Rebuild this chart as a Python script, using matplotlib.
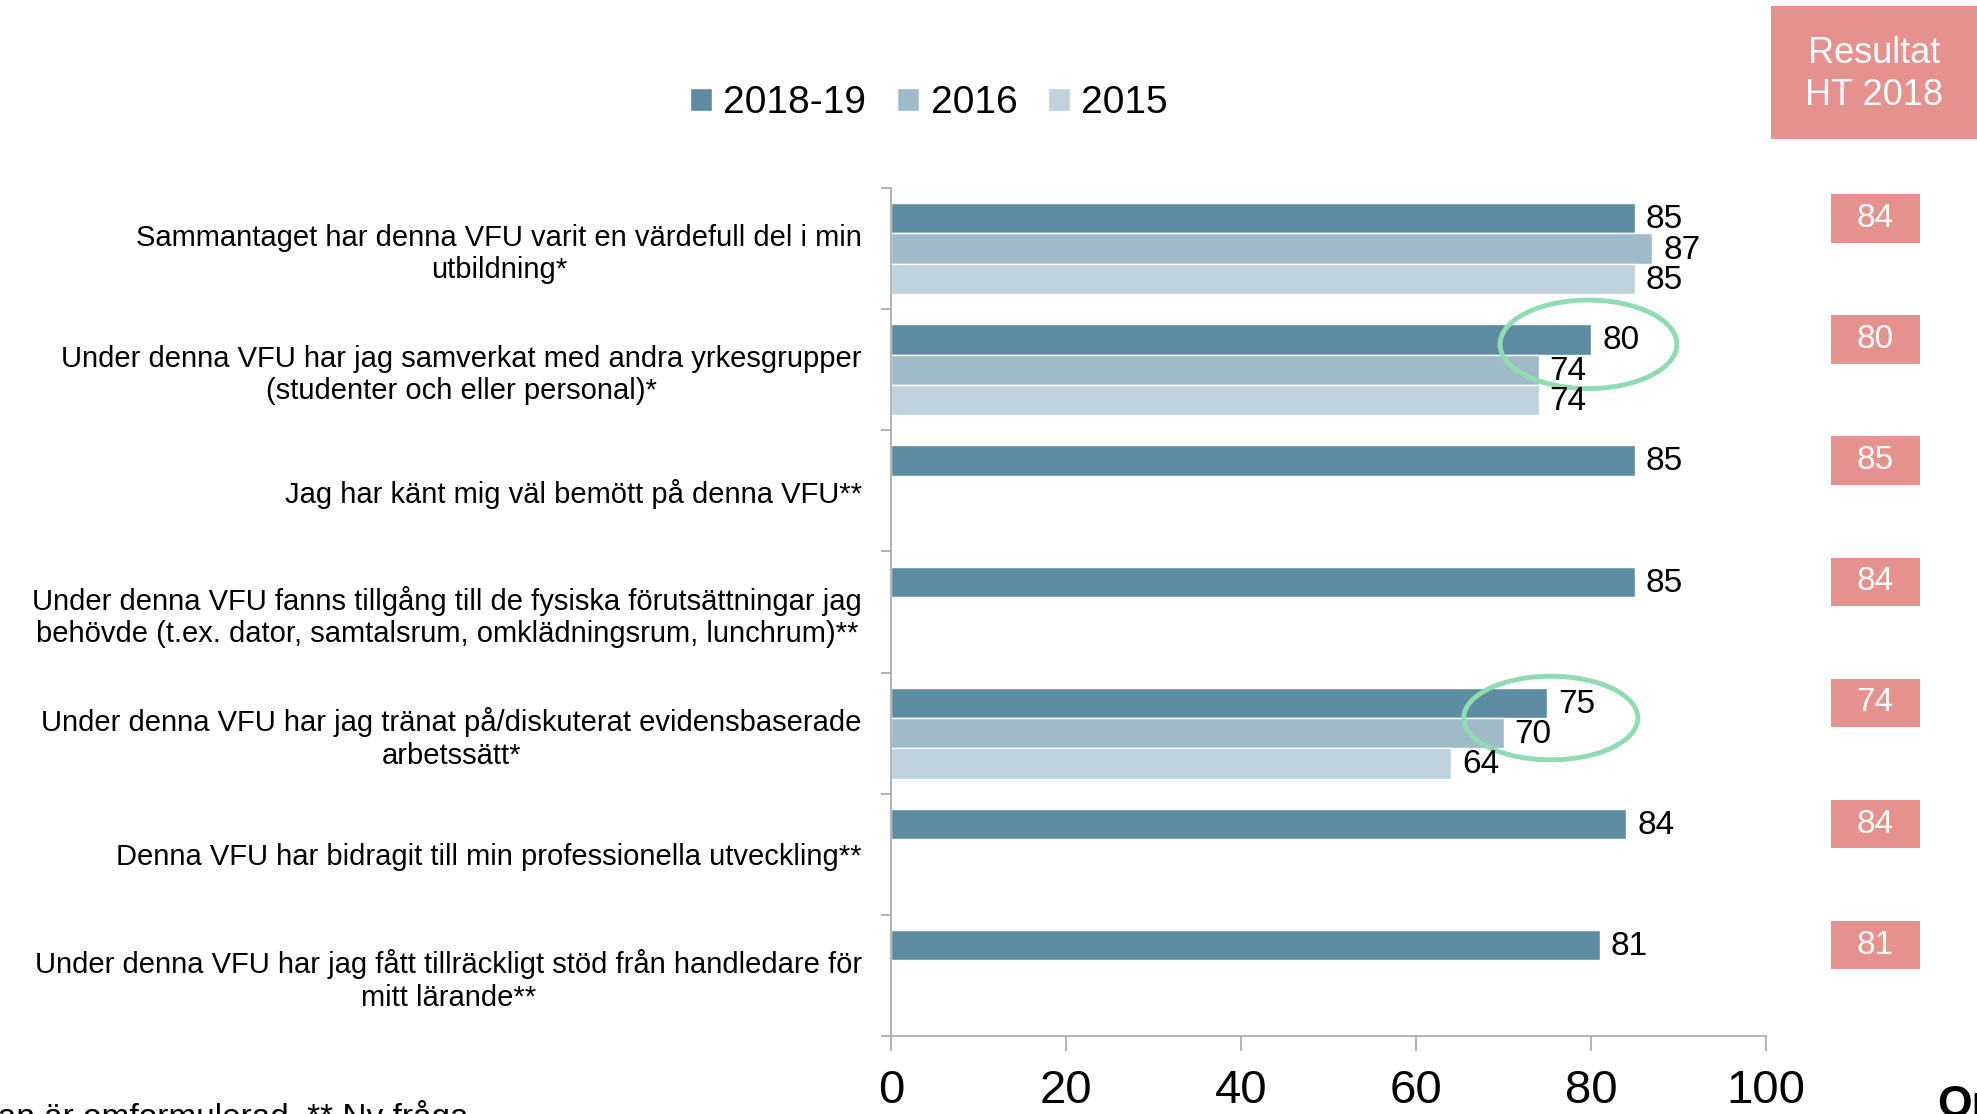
"""
VFU-enkät: stapeldiagram med jämförelse mellan år
"""

import matplotlib
matplotlib.use("Agg")
import matplotlib.pyplot as plt
from matplotlib.patches import Ellipse, Rectangle
from matplotlib.transforms import blended_transform_factory
import numpy as np

plt.rcParams['font.family'] = ['Liberation Sans', 'DejaVu Sans']

# Daten
fragor = [
    "Sammantaget har denna VFU varit en värdefull del i min\nutbildning*",
    "Under denna VFU har jag samverkat med andra yrkesgrupper\n(studenter och eller personal)*",
    "Jag har känt mig väl bemött på denna VFU**",
    "Under denna VFU fanns tillgång till de fysiska förutsättningar jag\nbehövde (t.ex. dator, samtalsrum, omklädningsrum, lunchrum)**",
    "Under denna VFU har jag tränat på/diskuterat evidensbaserade\narbetssätt*",
    "Denna VFU har bidragit till min professionella utveckling**",
    "Under denna VFU har jag fått tillräckligt stöd från handledare för\nmitt lärande**",
]
serier = ["2018-19", "2016", "2015"]
varden_2018_19 = [85, 80, 85, 85, 75, 84, 81]
varden_2016 = [87, 74, None, None, 70, None, None]
varden_2015 = [85, 74, None, None, 64, None, None]
resultat_ht2018 = [84, 80, 85, 84, 74, 84, 81]
x_ticks = [0, 20, 40, 60, 80, 100]

farger = ['#5d8ba1', '#9fbac8', '#bfd1dc']
rosa = '#e5918d'
gron = '#8edcb0'
gra = '#a6a6a6'

fig = plt.figure(figsize=(19.77, 11.14), dpi=100)
ax = fig.add_axes([0.4507, 0.0700, 0.4426, 0.7612])

y = np.arange(len(fragor))
h = 0.25
serie_data = [varden_2018_19, varden_2016, varden_2015]
for i, (namn, vals, f) in enumerate(zip(serier, serie_data, farger)):
    yy = [y[k] + (i - 1) * h for k in range(len(vals)) if vals[k] is not None]
    vv = [v for v in vals if v is not None]
    bars = ax.barh(yy, vv, height=h, color=f, edgecolor='white', linewidth=1.0, label=namn)
    for b, v in zip(bars, vv):
        ax.annotate(str(v), (b.get_width(), b.get_y() + b.get_height() / 2),
                    xytext=(8, -1), textcoords='offset points',
                    va='center', ha='left', fontsize=24, color='black')

ax.set_xlim(0, 100)
ax.set_ylim(len(fragor) - 0.5, -0.5)

ax.set_xticks(x_ticks)
ax.set_xticklabels([str(t) for t in x_ticks], fontsize=34)
ax.tick_params(axis='x', length=11, width=1.2, color=gra, pad=13)

ax.set_yticks(y)
ax.set_yticklabels(fragor, fontsize=21, ha='right', multialignment='center')
ax.set_yticks(np.arange(-0.5, len(fragor)), minor=True)
ax.tick_params(axis='y', which='major', length=0, pad=21)
ax.tick_params(axis='y', which='minor', length=7, width=1.2, color=gra)

for s in ['top', 'right']:
    ax.spines[s].set_visible(False)
for s in ['left', 'bottom']:
    ax.spines[s].set_color(gra)
    ax.spines[s].set_linewidth(1.2)

# Gröna ellipser
ax.add_patch(Ellipse((79.7, 1 - 0.21), 20.2, 0.73, fill=False, edgecolor=gron, linewidth=3.5, clip_on=False))
ax.add_patch(Ellipse((75.4, 4 - 0.125), 19.9, 0.69, fill=False, edgecolor=gron, linewidth=3.5, clip_on=False))

# Resultat HT 2018 rutor
tr = blended_transform_factory(fig.transFigure, ax.transData)
for k, r in enumerate(resultat_ht2018):
    yc = y[k] - h
    ax.add_patch(Rectangle((0.926, yc - 0.2), 0.045, 0.4, transform=tr,
                           facecolor=rosa, edgecolor='none', clip_on=False))
    ax.text(0.9485, yc, str(r), transform=tr, ha='center', va='center',
            fontsize=24, color='white')

fig.patches.append(Rectangle((0.896, 0.875), 0.11, 0.12, transform=fig.transFigure,
                             facecolor=rosa, edgecolor='none'))
fig.text(0.948, 0.933, "Resultat\nHT 2018", ha='center', va='center',
         fontsize=26, color='white', linespacing=1.25)

# Legend
fig.legend(loc='center', bbox_to_anchor=(0.470, 0.9075), ncol=3, frameon=False,
           fontsize=28, handlelength=0.55, handleheight=0.55,
           handletextpad=0.3, columnspacing=0.8)

fig.text(0.237, 0.0126, "* Frågan är omformulerad. ** Ny fråga", ha='right', va='top', fontsize=24)
fig.text(0.98, 0.026, "Om", ha='left', va='top', fontsize=32, fontweight='bold')

fig.savefig('out.png', dpi=100)
